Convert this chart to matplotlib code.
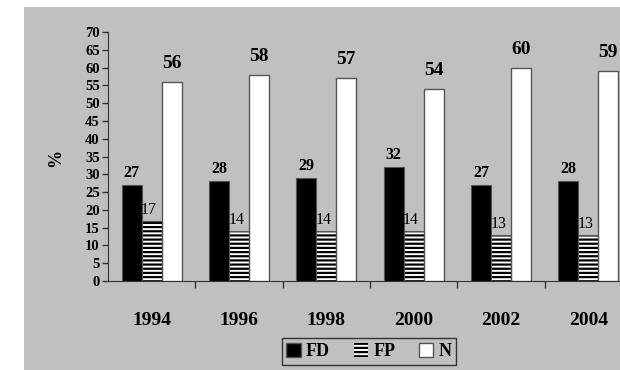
import matplotlib
matplotlib.use("Agg")
import matplotlib.pyplot as plt
from matplotlib.patches import Rectangle, Patch
import numpy as np

years = ["1994", "1996", "1998", "2000", "2002", "2004"]
fd = [27, 28, 29, 32, 27, 28]
fp = [17, 14, 14, 14, 13, 13]
n = [56, 58, 57, 54, 60, 59]

plt.rcParams['font.family'] = ['Liberation Serif', 'DejaVu Serif']
plt.rcParams['hatch.linewidth'] = 1.6

W, H = 620, 370
fig = plt.figure(figsize=(W / 100, H / 100), dpi=100)
fig.patch.set_facecolor('white')
fig.patches.append(Rectangle((24 / W, 0), 1 - 24 / W, 1 - 7 / H, transform=fig.transFigure,
                             facecolor='#c0c0c0', edgecolor='none', zorder=-10))

ax = fig.add_axes([108 / W, 89 / H, 524 / W, 249 / H])
ax.set_facecolor('none')

x = np.arange(len(years))
bw = 0.228
edge = '#555555'
ax.bar(x - bw, fd, bw, color='black', edgecolor=edge, linewidth=0.8, zorder=3)
ax.bar(x, fp, bw, color='white', edgecolor='black', hatch='----', linewidth=0, zorder=3)
ax.bar(x, fp, bw, color='none', edgecolor=edge, linewidth=0.8, zorder=4)
ax.bar(x + bw, n, bw, color='white', edgecolor=edge, linewidth=1.0, zorder=3)

for i in range(len(years)):
    ax.text(x[i] - bw, fd[i] + 1.2, str(fd[i]), ha='center', va='bottom', fontsize=11.5, fontweight='bold')
    ax.text(x[i] - 0.03, fp[i] + 0.8, str(fp[i]), ha='center', va='bottom', fontsize=11.5)
    ax.text(x[i] + bw, n[i] + 2.8, str(n[i]), ha='center', va='bottom', fontsize=14, fontweight='bold')

ax.set_xlim(-0.5, len(years) - 0.5)
ax.set_ylim(0, 70)
ax.set_yticks(range(0, 71, 5))
ax.set_xticks(np.arange(len(years) - 1) + 0.5)
ax.set_xticklabels([])
ax.tick_params(axis='x', direction='out', length=5, width=1, color='#333333')
ax.tick_params(axis='y', direction='out', length=4, width=1, color='#333333', pad=2)
for lab in ax.get_yticklabels():
    lab.set_fontweight('bold')
    lab.set_fontsize(10.5)
for i, yr in enumerate(years):
    ax.text(x[i], -11, yr, ha='center', va='center', fontsize=14, fontweight='bold')

for s in ['top', 'right']:
    ax.spines[s].set_visible(False)
ax.spines['left'].set_color('#333333')
ax.spines['bottom'].set_color('#333333')

fig.text(56 / W, 1 - 158 / H, '%', rotation=90, ha='center', va='center', fontsize=13, fontweight='bold')

handles = [Patch(facecolor='black', edgecolor=edge),
           Patch(facecolor='white', edgecolor='black', hatch='----', linewidth=0),
           Patch(facecolor='white', edgecolor=edge)]
leg = fig.legend(handles, ['FD', 'FP', 'N'], loc='center', bbox_to_anchor=(369 / W, 1 - 351.5 / H),
                 ncol=3, frameon=True, fancybox=False, edgecolor='#333333', facecolor='#c0c0c0',
                 prop={'weight': 'bold', 'size': 13}, handlelength=0.8, handleheight=0.8,
                 handletextpad=0.3, columnspacing=1.3, borderpad=0.25, framealpha=1)
leg.get_frame().set_linewidth(1.0)

fig.savefig('out.png', dpi=100)
